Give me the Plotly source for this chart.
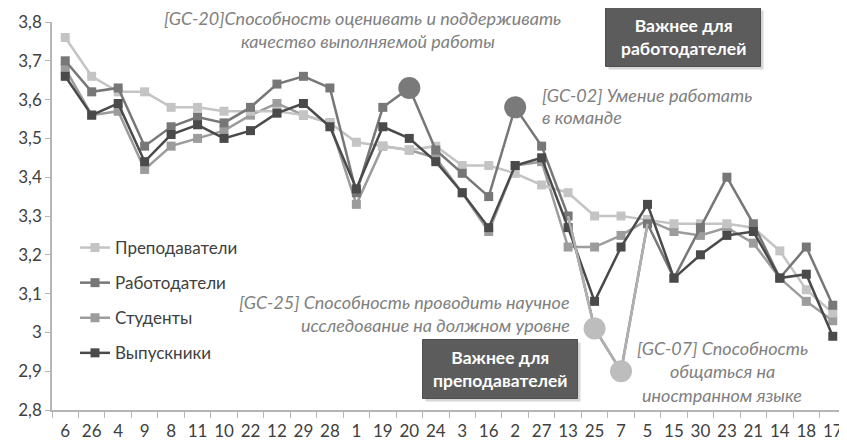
import plotly.graph_objects as go

categories = ["6", "26", "4", "9", "8", "11", "10", "22", "12", "29", "28", "1", "19", "20", "24",
              "3", "16", "2", "27", "13", "25", "7", "5", "15", "30", "23", "21", "14", "18", "17"]

prepodavateli = [3.76, 3.66, 3.62, 3.62, 3.58, 3.58, 3.57, 3.57, 3.57, 3.56, 3.54, 3.49, 3.48, 3.47, 3.48,
                 3.43, 3.43, 3.41, 3.38, 3.36, 3.30, 3.30, 3.29, 3.28, 3.28, 3.28, 3.27, 3.21, 3.11, 3.05]
rabotodateli = [3.70, 3.62, 3.63, 3.48, 3.53, 3.555, 3.54, 3.58, 3.64, 3.66, 3.63, 3.36, 3.58, 3.63, 3.47,
                3.41, 3.35, 3.58, 3.48, 3.30, 3.01, 2.90, 3.28, 3.14, 3.27, 3.40, 3.28, 3.14, 3.22, 3.07]
studenty = [3.68, 3.56, 3.57, 3.42, 3.48, 3.50, 3.52, 3.56, 3.59, 3.56, 3.54, 3.33, 3.48, 3.47, 3.45,
            3.36, 3.26, 3.43, 3.44, 3.22, 3.22, 3.25, 3.29, 3.26, 3.25, 3.27, 3.23, 3.14, 3.08, 3.03]
vypuskniki = [3.66, 3.56, 3.59, 3.44, 3.51, 3.535, 3.50, 3.52, 3.565, 3.59, 3.53, 3.37, 3.53, 3.50, 3.44,
              3.36, 3.27, 3.43, 3.45, 3.27, 3.08, 3.22, 3.33, 3.14, 3.20, 3.25, 3.26, 3.14, 3.15, 2.99]

series_names = ["Преподаватели", "Работодатели", "Студенты", "Выпускники"]
series_values = [prepodavateli, rabotodateli, studenty, vypuskniki]
series_colors = ["#c4c4c4", "#777777", "#9c9c9c", "#4a4a4a"]

# highlighted employer points (categories)
highlight_up = ["20", "2"]
highlight_down = ["25", "7"]

y_tickvals = [2.8, 2.9, 3.0, 3.1, 3.2, 3.3, 3.4, 3.5, 3.6, 3.7, 3.8]
y_ticktext = ["2,8", "2,9", "3", "3,1", "3,2", "3,3", "3,4", "3,5", "3,6", "3,7", "3,8"]

FONT = "Lato, 'Open Sans', 'Noto Sans', sans-serif"

fig = go.Figure()

order = [2, 0, 1, 3]
for i in order:
    fig.add_trace(go.Scatter(
        x=categories, y=series_values[i], name=series_names[i], mode="lines+markers",
        line=dict(color=series_colors[i], width=2.5),
        marker=dict(symbol="square", size=9, color=series_colors[i]),
        legendgroup=series_names[i], legendrank=i,
    ))

# light segment for the low employer points
idx_seg = [categories.index(c) for c in ["13", "25", "7", "5"]]
fig.add_trace(go.Scatter(
    x=[categories[k] for k in idx_seg], y=[rabotodateli[k] for k in idx_seg],
    mode="lines", line=dict(color="#b0b0b0", width=2.5), showlegend=False, hoverinfo="skip"))

idx_up = [categories.index(c) for c in highlight_up]
idx_down = [categories.index(c) for c in highlight_down]
fig.add_trace(go.Scatter(
    x=[categories[k] for k in idx_up], y=[rabotodateli[k] for k in idx_up],
    mode="markers", marker=dict(symbol="circle", size=22, color="#7a7a7a"), showlegend=False))
fig.add_trace(go.Scatter(
    x=[categories[k] for k in idx_down], y=[rabotodateli[k] for k in idx_down],
    mode="markers", marker=dict(symbol="circle", size=22, color="#bdbdbd"), showlegend=False))

# page body has an 8px margin, so the figure is made 8px smaller and all positions are page coords
OFF = 8
W, H = 847 - OFF, 444 - OFF
L, R, T = 52 - OFF, 1, 22 - OFF
B = H - (410 - OFF)
pw, ph = W - L - R, H - T - B


def px(xp):
    return (xp - OFF - L) / pw


def py(yp):
    return (H - B - (yp - OFF)) / ph


anns = []
ital = dict(family=FONT, size=18, color="#808080")


def note(text, x, y, xanchor="center"):
    anns.append(dict(text="<i>" + text + "</i>", x=px(x), y=py(y), xref="paper", yref="paper",
                     xanchor=xanchor, yanchor="middle", showarrow=False, font=ital))


note("[GC-20]Способность оценивать и поддерживать", 362, 18)
note("качество выполняемой работы", 368, 41)
note("[GC-02] Умение работать", 540, 95, "left")
note("в команде", 540, 117, "left")
note("[GC-25] Способность проводить научное", 572, 302, "right")
note("исследование на должном уровне", 572, 325, "right")
note("[GC-07] Способность", 722, 348)
note("общаться на", 722, 371)
note("иностранном языке", 722, 395)

shapes = []


def box(text, cx, cy, w=155, h=59):
    shapes.append(dict(type="rect", xref="paper", yref="paper",
                       x0=px(cx - w / 2 + 3), x1=px(cx + w / 2 + 3), y0=py(cy + h / 2 + 3), y1=py(cy - h / 2 + 3),
                       fillcolor="#bdbdbd", line=dict(width=0), layer="above", opacity=0.6))
    shapes.append(dict(type="rect", xref="paper", yref="paper",
                       x0=px(cx - w / 2), x1=px(cx + w / 2), y0=py(cy + h / 2), y1=py(cy - h / 2),
                       fillcolor="#5c5c5c", line=dict(color="#4f4f4f", width=1), layer="above"))
    anns.append(dict(text="<b>" + text + "</b>", x=px(cx), y=py(cy), xref="paper", yref="paper",
                     xanchor="center", yanchor="middle", showarrow=False,
                     font=dict(family=FONT, size=17.5, color="white")))


box("Важнее для<br>работодателей", 683, 37)
box("Важнее для<br>преподавателей", 500, 369)

fig.update_layout(
    width=W, height=H, margin=dict(l=L, r=R, t=T, b=B, autoexpand=False),
    paper_bgcolor="white", plot_bgcolor="white",
    font=dict(family=FONT, size=17, color="#404040"),
    showlegend=True,
    legend=dict(x=px(75), y=py(230), xanchor="left", yanchor="top", bgcolor="rgba(0,0,0,0)",
                font=dict(size=17, color="#404040"), tracegroupgap=10, itemwidth=30),
    annotations=anns, shapes=shapes,
    xaxis=dict(type="category", range=[-0.5, len(categories) - 0.5], showgrid=False, showline=True,
               linecolor="#b5b5b5", linewidth=1.5,
               ticks="outside", tickson="boundaries", ticklen=6, tickcolor="#b5b5b5", tickangle=0,
               ticklabelstandoff=5,
               automargin=False, tickfont=dict(size=17, color="#404040")),
    yaxis=dict(range=[2.8, 3.8], tickvals=y_tickvals, ticktext=y_ticktext, showgrid=False,
               showline=True, linecolor="#b5b5b5", linewidth=1.5, ticks="outside", ticklen=5,
               automargin=False, tickcolor="#b5b5b5", zeroline=False, tickfont=dict(size=17, color="#404040")),
)

fig.write_html("out.html")
